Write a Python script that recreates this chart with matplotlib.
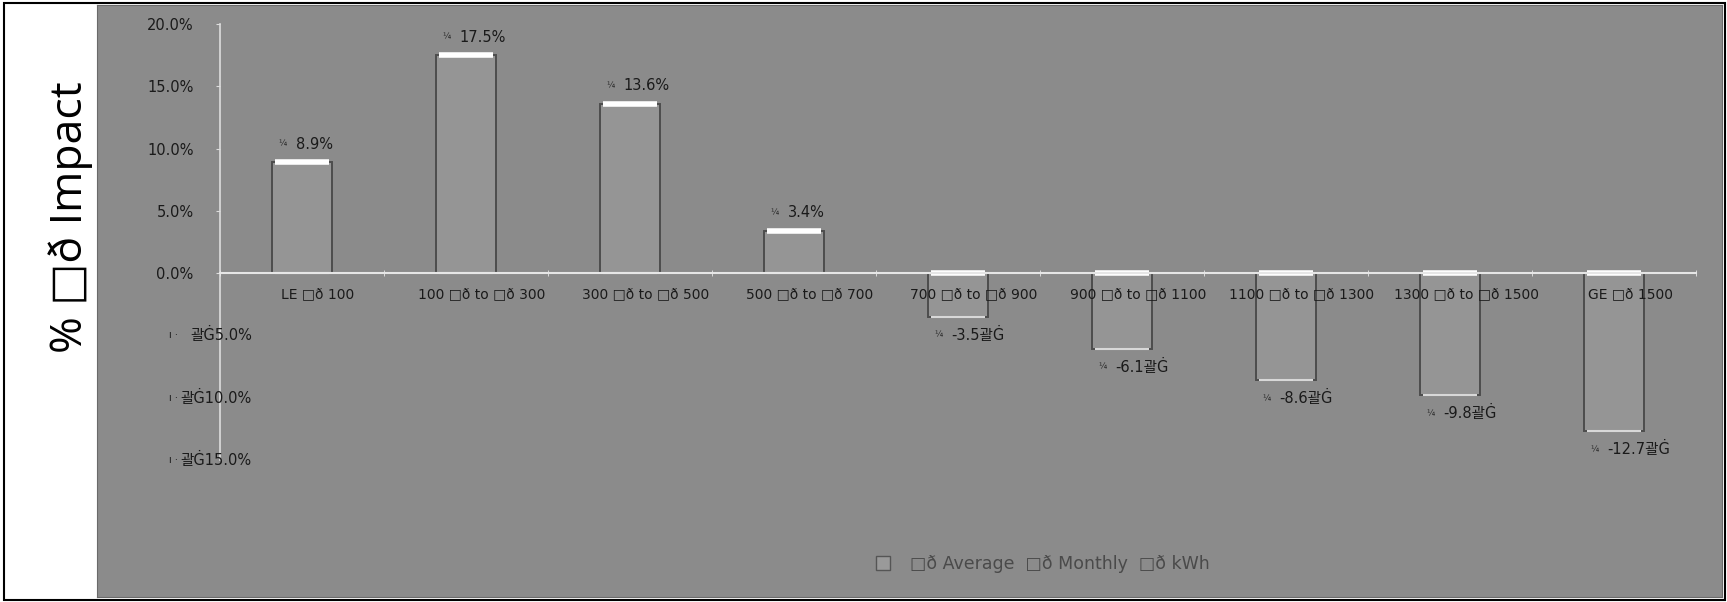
import matplotlib
matplotlib.use("Agg")
import matplotlib.pyplot as plt
import matplotlib.transforms as mtransforms
from matplotlib.patches import Rectangle, Patch
import numpy as np

plt.rcParams['font.family'] = ['DejaVu Sans', 'Noto Sans CJK KR']

categories = ["LE \u25a1ð 100", "100 \u25a1ð to \u25a1ð 300", "300 \u25a1ð to \u25a1ð 500",
              "500 \u25a1ð to \u25a1ð 700", "700 \u25a1ð to \u25a1ð 900", "900 \u25a1ð to \u25a1ð 1100",
              "1100 \u25a1ð to \u25a1ð 1300", "1300 \u25a1ð to \u25a1ð 1500", "GE \u25a1ð 1500"]
values = [8.9, 17.5, 13.6, 3.4, -3.5, -6.1, -8.6, -9.8, -12.7]
pos_ticks = [0, 5, 10, 15, 20]
pos_tick_labels = ["0.0%", "5.0%", "10.0%", "15.0%", "20.0%"]
neg_ticks = [-5, -10, -15]
neg_tick_labels = ["괄Ġ5.0%", "괄Ġ10.0%", "괄Ġ15.0%"]
ylabel_text = "% \u25a1ð Impact"
legend_text = "\u25a1ð Average  \u25a1ð Monthly  \u25a1ð kWh"

W, H = 1727, 602
fig = plt.figure(figsize=(W / 100, H / 100), dpi=100)
fig.patch.set_facecolor('white')

# outer border
fig.add_artist(Rectangle((4 / W, 2 / H), (W - 6) / W, (H - 5) / H, transform=fig.transFigure,
                         fill=False, edgecolor='black', linewidth=1.5))
# grey background region
bg = fig.add_axes([97 / W, 5 / H, (1722 - 97) / W, (597 - 5) / H])
bg.set_facecolor('#8b8b8b')
bg.set_xticks([]); bg.set_yticks([])
for s in bg.spines.values():
    s.set_color('#6a6a6a')

ax = fig.add_axes([220 / W, (H - 460) / H, (1696 - 220) / W, (460 - 24) / H])
ax.set_facecolor('none')
ax.set_ylim(-15, 20)
x = np.arange(len(categories))
ax.set_xlim(-0.5, len(categories) - 0.5)

bw = 0.37
bars = ax.bar(x, values, width=bw, color='#959595', edgecolor='#4d4d4d', linewidth=1.4, zorder=1)
# bevel highlights
tops = [max(v, 0) for v in values]
bots = [min(v, 0) for v in values]
ax.hlines(tops, x - bw / 2 * 0.9, x + bw / 2 * 0.9, colors='white', linewidth=4, zorder=1.2)
ax.hlines(bots, x - bw / 2 * 0.9, x + bw / 2 * 0.9, colors='#d8d8d8', linewidth=1.5, zorder=1.2)

# spines
for s in ['top', 'right']:
    ax.spines[s].set_visible(False)
ax.spines['left'].set_color('#dddddd')
ax.spines['left'].set_linewidth(1.2)
ax.spines['bottom'].set_position(('data', 0))
ax.spines['bottom'].set_color('#e6e6e6')
ax.spines['bottom'].set_linewidth(1.5)
ax.spines['bottom'].set_zorder(4)
ax.xaxis.set_zorder(5)

ax.set_yticks(pos_ticks)
ax.set_yticklabels(pos_tick_labels, fontsize=10.5, color='#1a1a1a')
ax.tick_params(axis='y', length=3, color='#dddddd', pad=16)

# negative tick labels (garbled, drawn to the right of axis)
trans_neg = mtransforms.blended_transform_factory(ax.transAxes, ax.transData)
for t, lab in zip(neg_ticks, neg_tick_labels):
    ax.annotate(lab, xy=(0, t), xycoords=trans_neg, xytext=(23, 0), textcoords='offset points',
                ha='right', va='center', fontsize=10.5, color='#1a1a1a',
                family=['DejaVu Sans', 'Noto Sans CJK KR'])
    ax.annotate("ı ·", xy=(0, t), xycoords=trans_neg, xytext=(-30, 0), textcoords='offset points',
                ha='right', va='center', fontsize=7, color='#1a1a1a')

ax.set_xticks(x)
ax.set_xticklabels(categories, fontsize=10, color='#1a1a1a')
ax.tick_params(axis='x', length=0, pad=10)
offset = mtransforms.ScaledTranslation(16 / 100, 0, fig.dpi_scale_trans)
for lbl in ax.get_xticklabels():
    lbl.set_transform(lbl.get_transform() + offset)
ax.set_xticks(np.arange(len(categories) + 1) - 0.5, minor=True)
ax.tick_params(axis='x', which='minor', length=4, color='#e6e6e6', direction='inout')

# data labels
for xi, v in zip(x, values):
    dy = 13 if v >= 0 else -13
    if v >= 0:
        txt = f"{v:.1f}%"
    else:
        txt = f"-{abs(v):.1f}괄Ġ"
    ax.annotate(txt, xy=(xi, v), xytext=(-4.5, dy), textcoords='offset points',
                ha='left', va='center', fontsize=10.5, color='#1a1a1a', zorder=6,
                family=['DejaVu Sans', 'Noto Sans CJK KR'])
    ax.annotate("¼", xy=(xi, v), xytext=(-14, dy), textcoords='offset points',
                ha='center', va='center', fontsize=6, color='#2a2a2a', zorder=6)

# y label
fig.text(71 / W, 1 - 217 / H, ylabel_text, rotation=90, ha='center', va='center',
         fontsize=32, color='black', family=['Open Sans', 'DejaVu Sans'])

# legend
handle = Patch(facecolor='#9a9a9a', edgecolor='#555555')
leg = fig.legend([handle], [legend_text], loc='center', bbox_to_anchor=(1043 / W, 1 - 564 / H),
                 frameon=False, fontsize=12.5, handlelength=0.8, handleheight=0.8, handletextpad=1.2)
for t in leg.get_texts():
    t.set_color('#4a4a4a')

fig.savefig("out.png", dpi=100, facecolor='white')
